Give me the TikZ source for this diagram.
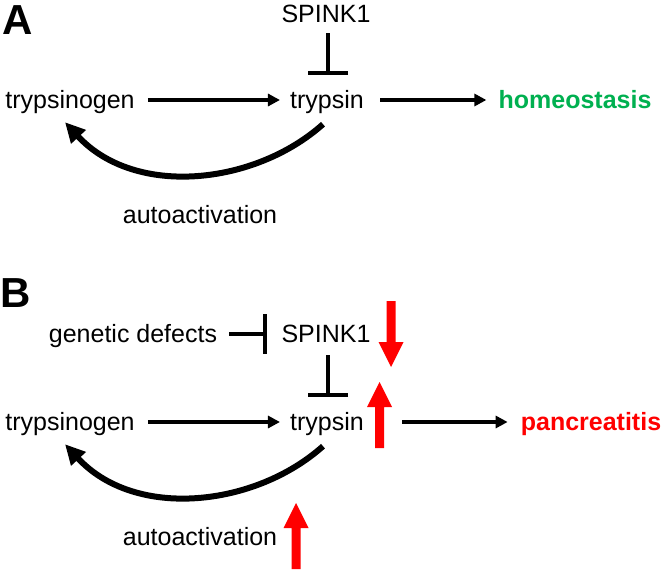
\documentclass[tikz,border=0pt]{standalone}
\usepackage{fontspec}
\setmainfont{Liberation Sans}
\usetikzlibrary{arrows.meta}
\definecolor{hgreen}{RGB}{0,176,80}
\definecolor{pred}{RGB}{255,0,0}
\begin{document}
\begin{tikzpicture}[x=1pt,y=-1pt,
  lbl/.style={font=\fontsize{25}{30}\selectfont, inner sep=0pt, anchor=base, text height=16pt, text depth=0pt},
  blbl/.style={lbl, font=\fontsize{25}{30}\selectfont\bfseries},
  panel/.style={font=\fontsize{42}{48}\selectfont\bfseries, inner sep=0pt, anchor=base west},
  arr/.style={line width=4pt, -{Triangle[length=12pt,width=12pt]}},
  inh/.style={line width=4pt, -{Bar[width=40pt]}},
  curv/.style={line width=6pt, -{Triangle[length=20pt,width=19pt]}},
  redarrow/.pic={\fill[pred] (0,0) -- (12.5,25) -- (4.5,25) -- (4.5,66) -- (-4.5,66) -- (-4.5,25) -- (-12.5,25) -- cycle;}
]
\useasboundingbox (0,0) rectangle (664,573);

% ---------- Panel A ----------
\node[panel] (A) at (2,34) {A};
\node[lbl] (spA) at (326,22) {SPINK1};
\node[lbl] (tgA) at (70,108) {trypsinogen};
\node[lbl] (tpA) at (327,108) {trypsin};
\node[blbl, text=hgreen] (hoA) at (575,108) {homeostasis};
\node[lbl] (auA) at (200,223) {autoactivation};

\draw[arr, shorten <=13pt, shorten >=10pt] (tgA.east) -- (tpA.west);
\draw[arr, shorten <=16pt, shorten >=12pt] (tpA.east) -- (hoA.west);
\draw[inh, shorten <=11pt, shorten >=17pt] ([xshift=2pt]spA.south) -- ([xshift=2pt]spA.south |- tpA.north);
\draw[curv] ([shift={(-4,16)}]tpA.south) .. controls (255,185) and (135,198) .. ([shift={(-5,14)}]tgA.south);

% ---------- Panel B ----------
\node[panel] (B) at (0,307) {B};
\node[lbl] (gdB) at (133,342) {genetic defects};
\node[lbl] (spB) at (326,342) {SPINK1};
\node[lbl] (tgB) at (70,430) {trypsinogen};
\node[lbl] (tpB) at (327,430) {trypsin};
\node[blbl, text=pred] (paB) at (591,430) {pancreatitis};
\node[lbl] (auB) at (200,545) {autoactivation};

\draw[arr, shorten <=13pt, shorten >=10pt] (tgB.east) -- (tpB.west);
\draw[arr, shorten <=38pt, shorten >=13pt] (tpB.east) -- (paB.west);
\draw[inh, shorten <=12pt, shorten >=14pt] (gdB.east) -- (spB.west);
\draw[inh, shorten <=13pt, shorten >=17pt] ([xshift=2pt]spB.south) -- ([xshift=2pt]spB.south |- tpB.north);
\draw[curv] ([shift={(-4,16)}]tpB.south) .. controls (255,507) and (135,520) .. ([shift={(-5,14)}]tgB.south);

% red block arrows
\pic[rotate=180] at (391,367) {redarrow};
\pic at (379.5,382) {redarrow};
\pic at (296,503) {redarrow};
\end{tikzpicture}
\end{document}
